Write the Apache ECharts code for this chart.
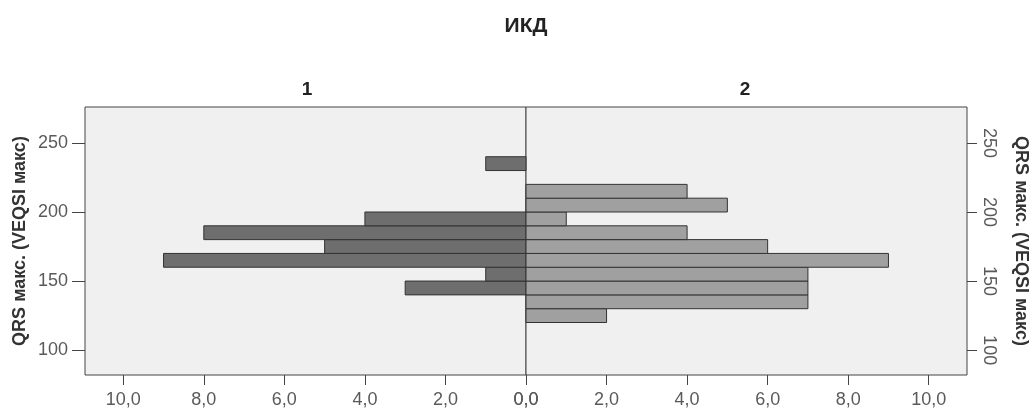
<!DOCTYPE html>
<html>
<head>
<meta charset="utf-8">
<script src="https://cdn.jsdelivr.net/npm/echarts@6/dist/echarts.min.js"></script>
<style>html,body{margin:0;padding:0;background:#fff}#c{width:1031px;height:410px}</style>
</head>
<body>
<div id="c"></div>
<script>
// Histogram bins (QRS макс.), lower and upper bounds
const binLow  = [120, 130, 140, 150, 160, 170, 180, 190, 200, 210, 220, 230];
const binHigh = [130, 140, 150, 160, 170, 180, 190, 200, 210, 220, 230, 240];
// Frequencies per bin for each group
const group1 = [0, 0, 3, 1, 9, 5, 8, 4, 0, 0, 0, 1];
const group2 = [2, 7, 7, 7, 9, 6, 4, 1, 5, 4, 0, 0];
const xTicks = [0, 2, 4, 6, 8, 10];
const yTicks = [100, 150, 200, 250];
const panelNames = ['1', '2'];
const mainTitle = 'ИКД';
const axisName = 'QRS макс. (VEQSI макс)';

function rows(counts) {
  const out = [];
  counts.forEach((c, i) => { if (c > 0) out.push([binLow[i], binHigh[i], c]); });
  return out;
}
function renderBar(params, api) {
  const lo = api.value(0), hi = api.value(1), c = api.value(2);
  const p1 = api.coord([0, hi]);
  const p2 = api.coord([c, lo]);
  return {
    type: 'rect',
    shape: { x: Math.min(p1[0], p2[0]), y: p1[1], width: Math.abs(p2[0] - p1[0]), height: p2[1] - p1[1] },
    style: api.style()
  };
}
const fmt = v => v.toFixed(1).replace('.', ',');
const FONT = 'Liberation Sans';
const labelStyle = { color: '#5a5a5a', fontSize: 18, fontFamily: FONT };

const chart = echarts.init(document.getElementById('c'));
const gridCommon = { top: 107, height: 268, width: 441, show: true, backgroundColor: '#f0f0f0', borderColor: '#444', borderWidth: 1, containLabel: false };
const xCommon = {
  type: 'value', min: 0, max: 10.95, interval: 2,
  axisLine: { show: false, onZero: false },
  axisTick: { show: true, length: 10, inside: false, customValues: xTicks, lineStyle: { color: '#444' } },
  axisLabel: Object.assign({ margin: 16, formatter: fmt, customValues: xTicks }, labelStyle),
  splitLine: { show: false }
};
const yCommon = {
  type: 'value', min: 82, max: 276,
  splitLine: { show: false },
  nameLocation: 'middle',
  name: axisName,
  nameTextStyle: { fontFamily: FONT, fontSize: 18, fontWeight: 'bold', color: '#333' }
};
chart.setOption({
  animation: false,
  title: [
    { text: mainTitle, left: 521, top: 11, textAlign: 'center', textStyle: { fontFamily: FONT, fontSize: 21, fontWeight: 'bold', color: '#222' } },
    { text: panelNames[0], left: 302, top: 75, textAlign: 'center', textStyle: { fontFamily: FONT, fontSize: 19, fontWeight: 'bold', color: '#222' } },
    { text: panelNames[1], left: 740, top: 75, textAlign: 'center', textStyle: { fontFamily: FONT, fontSize: 19, fontWeight: 'bold', color: '#222' } }
  ],
  grid: [
    Object.assign({ left: 85 }, gridCommon),
    Object.assign({ left: 526 }, gridCommon)
  ],
  xAxis: [
    Object.assign({ gridIndex: 0, inverse: true }, xCommon),
    Object.assign({ gridIndex: 1 }, xCommon)
  ],
  yAxis: [
    Object.assign({ gridIndex: 0, position: 'left', nameGap: 56, nameRotate: 90,
      axisLine: { show: false, onZero: false },
      axisTick: { show: true, length: 13, customValues: yTicks, lineStyle: { color: '#444' } },
      axisLabel: Object.assign({ margin: 17, customValues: yTicks }, labelStyle) }, yCommon),
    Object.assign({ gridIndex: 1, position: 'right', nameGap: 45, nameRotate: -90,
      axisLine: { show: false, onZero: false },
      axisTick: { show: true, length: 10, customValues: yTicks, lineStyle: { color: '#444' } },
      axisLabel: Object.assign({ margin: 13, rotate: -90, customValues: yTicks }, labelStyle) }, yCommon)
  ],
  series: [
    { type: 'custom', xAxisIndex: 0, yAxisIndex: 0, renderItem: renderBar, data: rows(group1),
      encode: { x: 2, y: [0, 1] },
      itemStyle: { color: '#6e6e6e', borderColor: '#333', borderWidth: 1 } },
    { type: 'custom', xAxisIndex: 1, yAxisIndex: 1, renderItem: renderBar, data: rows(group2),
      encode: { x: 2, y: [0, 1] },
      itemStyle: { color: '#a0a0a0', borderColor: '#333', borderWidth: 1 } }
  ]
});
</script>
</body>
</html>
